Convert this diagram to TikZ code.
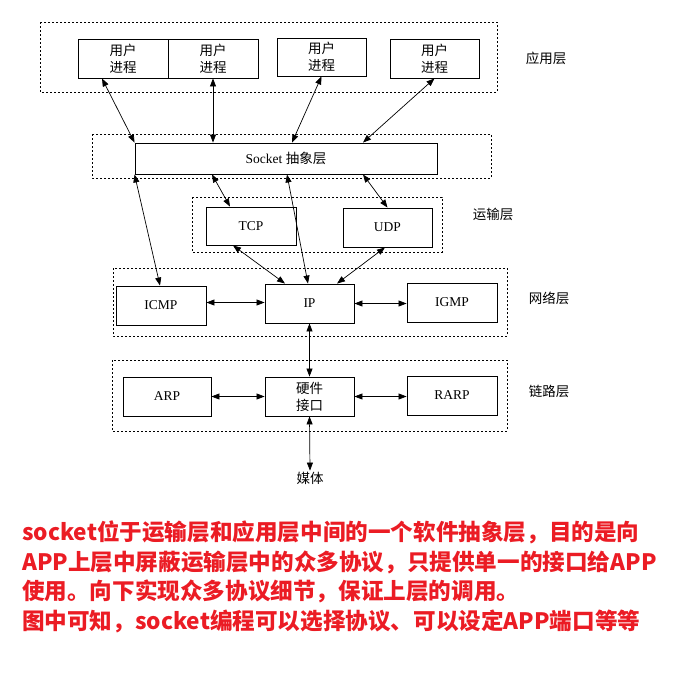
\documentclass[tikz,border=0pt]{standalone}
\usepackage{fontspec}
\setmainfont{Liberation Serif}
\newfontfamily\cjk{Noto Sans CJK SC}
\usetikzlibrary{arrows.meta}
\definecolor{notered}{RGB}{235,28,36}
\begin{document}
\begin{tikzpicture}[x=1pt, y=-1pt, >={Triangle[length=8pt,width=6pt]},
    box/.style={draw, line width=0.9pt, inner sep=0pt, minimum width=89pt,
        minimum height=39pt, align=center, font=\fontsize{13.5}{17}\selectfont},
    cjkbox/.style={box, font=\cjk\fontsize{13.5}{17}\selectfont},
    frame/.style={line width=0.7pt, dash pattern=on 2pt off 2pt},
    layer/.style={font=\cjk\fontsize{13.5}{16}\selectfont},
    link/.style={<->, line width=0.7pt},
    note/.style={anchor=west, inner sep=0pt, text=notered,
        font=\cjk\bfseries\fontsize{22.6}{28}\selectfont}]
    \useasboundingbox (0,0) rectangle (686,686);

    \draw[frame] (40,22) rectangle (497,92);
    \draw[frame] (92,134) rectangle (491,178);
    \draw[frame] (192,197) rectangle (442,252);
    \draw[frame] (113,268) rectangle (507,336);
    \draw[frame] (112,360) rectangle (507,431);

    \node[cjkbox, minimum width=90pt] (u1) at (123,58.5) {用户\\进程};
    \node[cjkbox, minimum width=90pt] (u2) at (213,58.5) {用户\\进程};
    \node[cjkbox, minimum height=38pt] (u3) at (321.5,57) {用户\\进程};
    \node[cjkbox] (u4) at (434.5,58.5) {用户\\进程};
    \node[box, minimum width=302pt, minimum height=31pt] (sock) at (286,158.5) {Socket \cjk 抽象层};
    \node[box, minimum width=90pt, minimum height=38pt] (tcp) at (251,226) {TCP};
    \node[box] (udp) at (387.5,227.5) {UDP};
    \node[box, minimum width=90pt] (icmp) at (161,305.5) {ICMP};
    \node[box] (ip) at (309.5,303.5) {IP};
    \node[box, minimum width=90pt] (igmp) at (452,302.5) {IGMP};
    \node[box, minimum width=88pt] (arp) at (167,396.5) {ARP};
    \node[cjkbox] (hw) at (309.5,396.5) {硬件\\接口};
    \node[box, minimum width=90pt] (rarp) at (452,395.5) {RARP};
    \node[layer, inner sep=1pt] (media) at (310,478) {媒体};

    \node[layer] (applbl) at (546,58) {应用层};
    \node[layer] (translbl) at (493,214) {运输层};
    \node[layer] (netlbl) at (549,298) {网络层};
    \node[layer] (linklbl) at (549,391) {链路层};

    \draw[link] ([xshift=-21pt]u1.south) -- (sock.north west);
    \draw[link] (u2.south) -- (u2.south |- sock.north);
    \draw[link] (u3.south) -- ([xshift=6pt]sock.north);
    \draw[link] (u4.south) -- ([xshift=77pt]sock.north);
    \draw[link] (sock.south west) -- ([xshift=-1pt]icmp.north);
    \draw[link] ([xshift=-74pt]sock.south) -- ([xshift=-21pt]tcp.north);
    \draw[link] ([xshift=1pt]sock.south) -- ([xshift=-1.5pt]ip.north);
    \draw[link] ([xshift=77pt]sock.south) -- (udp.north);
    \draw[link] ([xshift=-18pt]tcp.south) -- ([xshift=-24.5pt]ip.north);
    \draw[link] ([xshift=-2.5pt]udp.south) -- ([xshift=27.5pt]ip.north);
    \draw[link] ([yshift=1pt]ip.west -| icmp.east) -- ([yshift=1pt]ip.west);
    \draw[link] (ip.east) -- (ip.east -| igmp.west);
    \draw[link] (ip.south) -- (hw.north);
    \draw[link] (arp.east) -- (hw.west);
    \draw[link] (hw.east) -- (hw.east -| rarp.west);
    \draw[link] (hw.south) -- (media.north);

    \node[note] (note1) at (22,532) {socket位于运输层和应用层中间的一个软件抽象层，目的是向};
    \node[note] (note2) at (22,562) {APP上层中屏蔽运输层中的众多协议，只提供单一的接口给APP};
    \node[note] (note3) at (22,591) {使用。向下实现众多协议细节，保证上层的调用。};
    \node[note] (note4) at (22,621) {图中可知，socket编程可以选择协议、可以设定APP端口等等};
\end{tikzpicture}
\end{document}
